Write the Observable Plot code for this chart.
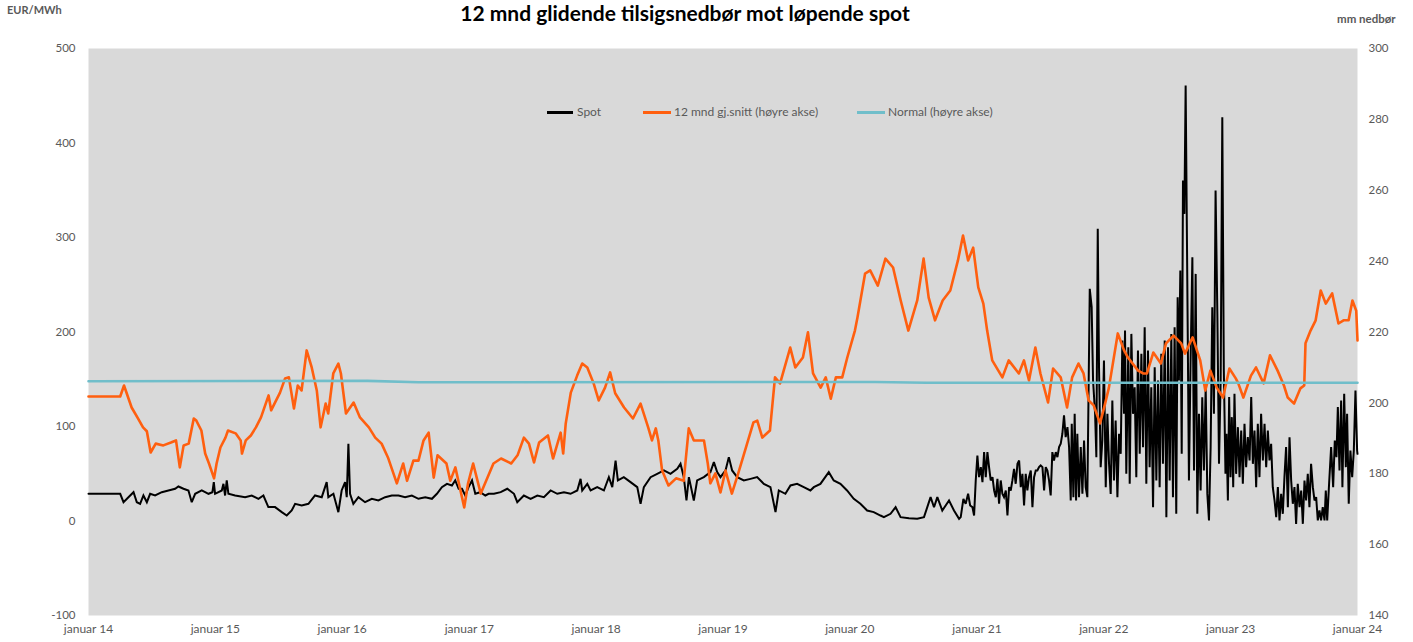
<!DOCTYPE html>
<html>
<head>
<meta charset="utf-8">
<script src="https://cdn.jsdelivr.net/npm/d3@7"></script>
<script src="https://cdn.jsdelivr.net/npm/@observablehq/plot@0.6"></script>
<style>
  body { margin: 0; background: #ffffff; }
  #wrap { position: relative; width: 1413px; height: 642px; overflow: hidden; font-family: Lato, "Open Sans", sans-serif; color: #595959; }
  #title { position: absolute; left: 0; width: 1370px; top: 1px; line-height: 24px; text-align: center; font-weight: bold; font-size: 21px; color: #000; white-space: nowrap; }
  .unit { position: absolute; font-weight: bold; font-size: 11px; color: #595959; white-space: nowrap; }
  .lg { position: absolute; font-size: 12px; color: #595959; white-space: nowrap; top: 104px; }
  .sw { position: absolute; height: 3px; top: 111px; }
</style>
</head>
<body>
<div id="wrap">
  <div id="title">12 mnd glidende tilsigsnedbør mot løpende spot</div>
  <div class="unit" style="left:7px; top:3px;">EUR/MWh</div>
  <div class="unit" style="left:1337px; top:12px; font-size:11.5px;">mm nedbør</div>
  <div id="chart"></div>
  <div class="sw" style="left:547px; width:26px; background:#000;"></div>
  <div class="lg" style="left:577px;">Spot</div>
  <div class="sw" style="left:643px; width:28px; background:#FF5F0F;"></div>
  <div class="lg" style="left:674px;">12 mnd gj.snitt (høyre akse)</div>
  <div class="sw" style="left:857px; width:28px; background:#70BECA;"></div>
  <div class="lg" style="left:888px;">Normal (høyre akse)</div>
</div>
<script>
// ---- data (time as decimal year) ----
const years = [2014, 2015, 2016, 2017, 2018, 2019, 2020, 2021, 2022, 2023, 2024];
const yearLabels = ["januar 14","januar 15","januar 16","januar 17","januar 18","januar 19","januar 20","januar 21","januar 22","januar 23","januar 24"];
const leftTicks = [-100, 0, 100, 200, 300, 400, 500];
const rightTicks = [140, 160, 180, 200, 220, 240, 260, 280, 300];

// Spot, EUR/MWh
const spot = [
[2014.00,28.8],[2014.25,28.8],[2014.276,19.9],[2014.315,25.2],[2014.355,30.5],[2014.381,19.9],[2014.407,18.2],[2014.433,27.0],[2014.46,19.9],[2014.486,28.8],[2014.525,27.0],[2014.578,30.5],[2014.63,32.3],[2014.683,34.1],[2014.709,36.5],[2014.749,34.1],[2014.788,32.3],[2014.814,19.9],[2014.841,28.8],[2014.893,32.3],[2014.946,28.8],[2014.977,30.5],[2014.988,41.1],[2014.998,28.8],[2015.051,32.3],[2015.064,39.3],[2015.077,27.0],[2015.09,42.9],[2015.103,28.8],[2015.156,27.0],[2015.235,25.2],[2015.287,27.0],[2015.34,23.5],[2015.379,27.0],[2015.418,14.7],[2015.471,14.7],[2015.524,9.4],[2015.563,5.8],[2015.602,11.1],[2015.629,18.2],[2015.681,16.4],[2015.734,18.2],[2015.786,27.0],[2015.839,25.2],[2015.878,41.1],[2015.891,25.2],[2015.931,28.8],[2015.97,9.4],[2015.996,32.3],[2016.023,41.1],[2016.036,25.2],[2016.049,81.7],[2016.062,28.8],[2016.088,18.2],[2016.128,25.2],[2016.18,19.9],[2016.233,23.5],[2016.285,21.7],[2016.338,25.2],[2016.39,27.0],[2016.443,27.0],[2016.495,25.2],[2016.548,27.0],[2016.6,23.5],[2016.653,25.2],[2016.706,23.5],[2016.745,28.8],[2016.784,35.8],[2016.824,39.3],[2016.863,37.6],[2016.889,42.9],[2016.916,34.1],[2016.942,34.1],[2016.968,27.0],[2016.994,35.8],[2017.021,42.9],[2017.047,28.8],[2017.086,30.5],[2017.126,27.0],[2017.152,28.8],
[2017.194,28.8],[2017.247,30.5],[2017.299,34.1],[2017.352,28.8],[2017.378,19.9],[2017.43,27.0],[2017.483,23.5],[2017.536,27.0],[2017.588,25.2],[2017.641,32.3],[2017.693,28.8],[2017.746,30.5],[2017.798,28.8],[2017.851,32.3],[2017.877,44.6],[2017.89,32.3],[2017.93,39.3],[2017.956,32.3],[2018.008,35.8],[2018.061,32.3],[2018.1,46.4],[2018.127,35.8],[2018.153,64.0],[2018.171,42.9],[2018.218,46.4],[2018.271,41.1],[2018.324,35.8],[2018.35,18.2],[2018.376,35.8],[2018.429,46.4],[2018.481,49.9],[2018.534,53.5],[2018.586,49.9],[2018.639,55.2],[2018.665,60.5],[2018.691,46.4],[2018.712,21.7],[2018.731,46.4],[2018.77,21.7],[2018.796,42.9],[2018.849,46.4],[2018.901,51.7],[2018.928,62.3],[2018.954,51.7],[2018.98,46.4],[2019.02,53.5],[2019.046,67.6],[2019.072,53.5],[2019.112,46.4],[2019.164,42.9],[2019.217,44.6],[2019.269,46.4],[2019.322,39.3],[2019.374,35.8],[2019.414,9.4],[2019.44,32.3],[2019.492,28.8],[2019.532,37.6],[2019.584,39.3],[2019.637,35.8],[2019.689,32.3],[2019.716,35.8],[2019.768,39.3],[2019.834,51.7],[2019.873,42.9],[2019.926,39.3],[2019.978,32.3],[2020.031,23.5],[2020.083,18.2],[2020.136,11.1],[2020.188,9.4],[2020.241,5.8],
[2020.268,4.1],[2020.32,7.6],[2020.36,14.6],[2020.399,4.1],[2020.465,3.0],[2020.53,2.3],[2020.583,4.1],[2020.635,25.2],[2020.662,14.6],[2020.688,25.2],[2020.727,11.1],[2020.78,21.7],[2020.819,11.1],[2020.859,2.3],
[2020.872,4.1],[2020.893,23.5],[2020.911,18.2],[2020.93,28.8],[2020.946,16.4],[2020.964,14.7],[2020.977,5.8],[2020.99,42.9],[2021.003,69.3],[2021.016,46.4],[2021.03,57.0],[2021.043,41.1],[2021.056,72.9],[2021.069,46.4],[2021.082,72.9],[2021.095,57.0],[2021.108,42.9],[2021.122,46.4],[2021.135,32.3],[2021.148,25.2],[2021.161,44.6],[2021.174,18.2],[2021.187,42.9],[2021.2,28.8],[2021.213,25.2],[2021.227,32.3],[2021.24,5.8],[2021.253,35.8],[2021.266,32.3],[2021.279,42.9],[2021.292,55.2],[2021.305,39.4],[2021.319,60.5],[2021.332,64.0],[2021.345,35.8],[2021.358,49.9],[2021.371,16.4],[2021.384,49.9],[2021.397,32.3],[2021.41,46.4],[2021.424,53.5],[2021.437,14.7],[2021.45,46.4],[2021.463,53.5],[2021.476,53.5],[2021.489,57.0],[2021.502,58.8],[2021.516,57.0],[2021.529,32.3],[2021.542,57.0],[2021.555,53.5],[2021.568,42.9],[2021.581,27.0],[2021.594,72.9],[2021.607,64.0],[2021.621,72.9],[2021.634,67.6],[2021.647,78.2],[2021.66,81.7],[2021.673,92.3],[2021.686,111.7],[2021.699,88.7],[2021.713,99.3],[2021.726,78.2],[2021.739,21.7],[2021.747,102.8],[2021.76,25.2],[2021.77,113.4],[2021.781,21.7],[2021.791,92.3],[2021.804,25.2],[2021.818,78.2],[2021.831,28.8],[2021.844,85.2],[2021.857,35.8],
[2021.870,25.2],[2021.889,245.7],[2021.904,226.3],[2021.915,148.7],[2021.931,113.4],[2021.941,67.5],[2021.952,309.2],[2021.962,162.8],[2021.975,56.9],[2021.988,85.2],[2022.001,169.8],[2022.015,35.8],[2022.028,113.4],[2022.041,60.5],[2022.054,28.7],[2022.067,127.5],[2022.08,42.8],[2022.093,106.3],[2022.107,25.2],[2022.12,92.2],[2022.133,71.1],[2022.146,191.0],[2022.159,113.4],[2022.167,201.6],[2022.177,49.9],[2022.193,183.9],[2022.204,39.3],[2022.217,198.0],[2022.23,113.4],[2022.243,141.6],[2022.256,46.4],[2022.269,180.4],[2022.283,71.1],[2022.296,176.9],[2022.309,78.1],[2022.322,205.1],[2022.335,39.3],[2022.348,180.4],[2022.361,56.9],[2022.374,141.6],[2022.388,14.6],[2022.401,162.8],[2022.414,42.8],[2022.427,148.7],[2022.44,35.8],[2022.453,176.9],[2022.466,60.5],[2022.48,191.0],[2022.493,4.0],[2022.506,183.9],[2022.519,42.8],[2022.532,198.0],[2022.545,25.2],[2022.558,205.1],[2022.571,7.6],[2022.582,236.8],[2022.592,148.7],[2022.603,265.1],[2022.614,71.1],[2022.624,360.3],[2022.635,325.0],[2022.645,460.8],[2022.658,254.5],[2022.671,42.8],[2022.684,169.8],[2022.698,279.2],[2022.711,53.4],[2022.724,261.5],[2022.737,7.6],[2022.75,113.4],[2022.763,32.3],[2022.776,131.0],[2022.789,53.4],[2022.803,141.6],[2022.816,28.7],[2022.829,0.5],[2022.842,78.1],[2022.855,226.3],[2022.868,113.4],[2022.881,349.7],[2022.895,219.2],[2022.908,60.5],[2022.921,148.7],[2022.934,427.3],
[2022.946,159.3],[2022.959,49.9],[2022.967,92.3],[2022.978,21.7],[2022.988,131.1],[2022.999,46.4],[2023.009,109.9],[2023.02,35.8],[2023.03,134.6],[2023.043,49.9],[2023.057,99.3],[2023.07,46.4],[2023.083,95.8],[2023.096,39.4],[2023.109,102.9],[2023.122,57.0],[2023.135,88.7],[2023.149,64.1],[2023.162,131.1],[2023.175,60.5],[2023.188,95.8],[2023.201,35.8],[2023.214,102.9],[2023.227,46.4],[2023.24,113.4],[2023.254,64.1],[2023.267,102.9],[2023.28,57.0],[2023.293,95.8],[2023.306,64.1],[2023.319,81.7],[2023.332,35.8],[2023.346,21.7],[2023.359,4.1],[2023.372,35.8],[2023.385,0.6],[2023.398,28.8],[2023.411,7.6],[2023.424,46.4],[2023.437,78.2],[2023.451,14.7],[2023.464,88.7],[2023.477,42.9],[2023.49,18.2],[2023.503,35.8],[2023.516,-3.0],[2023.529,39.4],[2023.543,14.7],[2023.556,32.3],[2023.569,-3.0],[2023.582,42.9],[2023.595,21.7],[2023.608,49.9],[2023.621,14.7],[2023.634,60.5],[2023.648,35.8],[2023.661,21.7],[2023.674,25.3],[2023.687,0.6],[2023.7,11.1],[2023.713,0.6],[2023.726,14.7],[2023.74,0.6],[2023.75,32.3],[2023.761,0.6],[2023.776,39.4],[2023.792,78.2],[2023.808,35.8],[2023.821,85.2],[2023.834,67.6],[2023.845,120.5],[2023.858,53.5],[2023.871,127.5],[2023.881,35.8],[2023.895,134.6],[2023.908,57.0],[2023.918,113.4],[2023.931,18.2],[2023.944,74.6],[2023.958,46.4],[2023.971,74.6],[2023.984,138.1],[2023.997,74.6],[2024.0,71.1]
];

// 12 mnd gj.snitt, mm (right axis)
const precip12m = [
[2014.00,201.8],[2014.25,201.8],[2014.28,204.9],[2014.34,198.7],[2014.39,195.6],[2014.43,193.1],[2014.46,192.0],[2014.49,186.0],[2014.53,188.5],[2014.59,188.0],[2014.65,188.8],[2014.69,189.4],[2014.72,181.8],[2014.75,188.0],[2014.79,188.5],[2014.83,195.6],[2014.85,195.0],[2014.89,192.2],[2014.92,185.7],[2014.95,182.9],[2014.99,178.7],[2015.01,182.9],[2015.04,187.4],[2015.08,190.2],[2015.10,192.2],[2015.16,191.4],[2015.20,189.4],[2015.21,185.7],[2015.24,189.4],[2015.28,190.8],[2015.32,193.1],[2015.36,195.9],[2015.42,202.1],[2015.44,197.9],[2015.51,202.9],[2015.55,206.9],[2015.58,207.2],[2015.62,198.4],[2015.65,204.9],[2015.68,203.5],[2015.72,214.8],[2015.76,210.0],[2015.80,203.5],[2015.83,193.1],[2015.87,199.8],[2015.89,197.0],[2015.93,208.3],[2015.97,211.1],[2015.99,208.3],[2016.03,197.0],[2016.09,200.1],[2016.14,195.9],[2016.21,193.1],[2016.26,190.2],[2016.31,188.5],[2016.36,184.6],[2016.43,177.3],[2016.48,182.9],[2016.51,178.0],[2016.56,183.7],[2016.60,183.7],[2016.64,189.4],[2016.68,191.6],[2016.72,178.9],[2016.75,185.2],[2016.82,182.9],[2016.85,178.0],[2016.89,181.8],[2016.96,170.5],[2016.99,177.3],[2017.03,182.9],[2017.09,174.4],[2017.15,179.5],[2017.19,182.9],[2017.25,184.3],[2017.33,182.9],[2017.38,185.2],[2017.43,190.2],[2017.47,188.5],[2017.51,183.2],[2017.55,188.8],[2017.62,190.8],[2017.66,184.3],[2017.72,191.6],[2017.74,185.7],[2017.76,194.2],[2017.80,202.9],[2017.85,207.7],[2017.89,211.1],[2017.93,210.0],[2017.98,205.5],[2018.02,200.7],[2018.07,204.3],[2018.11,208.6],[2018.15,202.7],[2018.22,198.7],[2018.29,195.6],[2018.35,199.8],[2018.41,193.1],[2018.44,189.4],[2018.47,192.8],[2018.49,189.4],[2018.52,180.9],[2018.57,176.7],[2018.63,178.7],[2018.69,178.0],[2018.73,192.8],[2018.77,189.4],[2018.85,189.4],[2018.88,182.9],[2018.90,177.3],[2018.94,180.1],[2018.98,174.7],[2019.02,180.9],[2019.07,174.4],[2019.12,180.1],[2019.19,188.5],[2019.24,194.5],[2019.27,195.0],[2019.31,190.2],[2019.37,192.2],[2019.41,207.2],[2019.45,205.5],[2019.53,215.6],[2019.57,210.0],[2019.63,212.8],[2019.67,219.9],[2019.71,208.3],[2019.77,204.3],[2019.81,207.2],[2019.85,201.2],[2019.89,207.2],[2019.94,207.2],[2019.98,212.8],[2020.04,220.4],[2020.06,224.1],[2020.12,236.5],[2020.16,237.4],[2020.22,233.1],[2020.28,240.7],[2020.34,238.2],[2020.40,228.9],[2020.46,220.4],[2020.53,228.9],[2020.58,240.7],[2020.62,229.7],[2020.67,223.3],[2020.73,228.9],[2020.79,231.7],[2020.85,240.2],[2020.89,247.2],[2020.93,240.2],[2020.97,243.8],[2021.01,232.6],[2021.05,228.0],[2021.08,220.4],[2021.12,212.0],[2021.20,207.2],[2021.25,212.0],[2021.33,208.3],[2021.37,212.0],[2021.41,206.3],[2021.46,215.6],[2021.50,208.3],[2021.56,200.1],[2021.60,209.7],[2021.66,207.2],[2021.71,198.7],[2021.75,207.2],[2021.80,211.1],[2021.84,208.3],[2021.88,200.7],[2021.92,199.3],[2021.97,194.2],[2022.01,199.8],[2022.04,204.3],[2022.11,219.6],[2022.16,214.8],[2022.19,212.8],[2022.27,209.1],[2022.31,208.3],[2022.34,208.3],[2022.39,214.2],[2022.45,211.1],[2022.49,216.8],[2022.55,219.0],[2022.61,216.8],[2022.64,213.9],[2022.70,218.5],[2022.76,212.0],[2022.80,203.5],[2022.84,209.1],[2022.89,204.3],[2022.94,201.5],[2022.99,209.7],[2023.04,206.9],[2023.06,205.5],[2023.10,201.5],[2023.16,207.7],[2023.20,210.0],[2023.26,205.5],[2023.31,213.4],[2023.37,209.1],[2023.42,204.9],[2023.45,201.5],[2023.50,199.8],[2023.55,204.1],[2023.58,204.9],[2023.59,216.8],[2023.63,220.4],[2023.67,223.3],[2023.71,231.7],[2023.75,228.0],[2023.80,230.9],[2023.85,222.4],[2023.89,223.3],[2023.93,223.3],[2023.96,228.9],[2023.99,226.0],[2024.00,217.6]
];

// Normal, mm (right axis)
const normal = [
[2014.00,206.1],[2016.20,206.2],[2016.60,205.8],[2020.20,205.9],[2020.60,205.7],[2024.00,205.7]
];

// ---- helpers ----
function decYear(t) {
  const y = Math.floor(t);
  const a = Date.UTC(y, 0, 1), b = Date.UTC(y + 1, 0, 1);
  return new Date(a + (t - y) * (b - a));
}
// right axis (mm 140..300) mapped onto left axis (-100..500)
const mmToLeft = mm => -100 + (mm - 140) * (600 / 160);
const leftToMm = v => 140 + (v + 100) * (160 / 600);

const spotData = spot.map(([t, v]) => ({date: decYear(t), value: v}));
const precipData = precip12m.map(([t, v]) => ({date: decYear(t), value: mmToLeft(v)}));
const normalData = normal.map(([t, v]) => ({date: decYear(t), value: mmToLeft(v)}));
const yearDates = years.map(y => decYear(y));

const chart = Plot.plot({
  width: 1413,
  height: 642,
  marginLeft: 88,
  marginRight: 56,
  marginTop: 48,
  marginBottom: 27,
  style: {fontFamily: "Lato, 'Open Sans', sans-serif", fontSize: "11px", color: "#595959", background: "transparent", overflow: "visible"},
  x: {type: "utc", domain: [decYear(2014), decYear(2024)], label: null},
  y: {domain: [-100, 500], label: null},
  marks: [
    Plot.frame({fill: "#D9D9D9", stroke: null}),
    Plot.axisX(yearDates, {tickSize: 0, tickPadding: 9, tickFormat: d => yearLabels[years.indexOf(d.getUTCFullYear())], fontSize: 12}),
    Plot.axisY(leftTicks, {anchor: "left", tickSize: 0, tickPadding: 13, tickFormat: d => String(d), label: null, fontSize: 11.5}),
    Plot.axisY(rightTicks.map(mmToLeft), {anchor: "right", tickSize: 0, tickPadding: 11, tickFormat: d => String(Math.round(leftToMm(d))), label: null, fontSize: 11.5}),
    Plot.line(spotData, {x: "date", y: "value", stroke: "#000000", strokeWidth: 2, strokeLinejoin: "miter", strokeMiterlimit: 3}),
    Plot.line(precipData, {x: "date", y: "value", stroke: "#FF5F0F", strokeWidth: 2.6}),
    Plot.line(normalData, {x: "date", y: "value", stroke: "#70BECA", strokeWidth: 2.6})
  ]
});
document.getElementById("chart").appendChild(chart);
</script>
</body>
</html>
